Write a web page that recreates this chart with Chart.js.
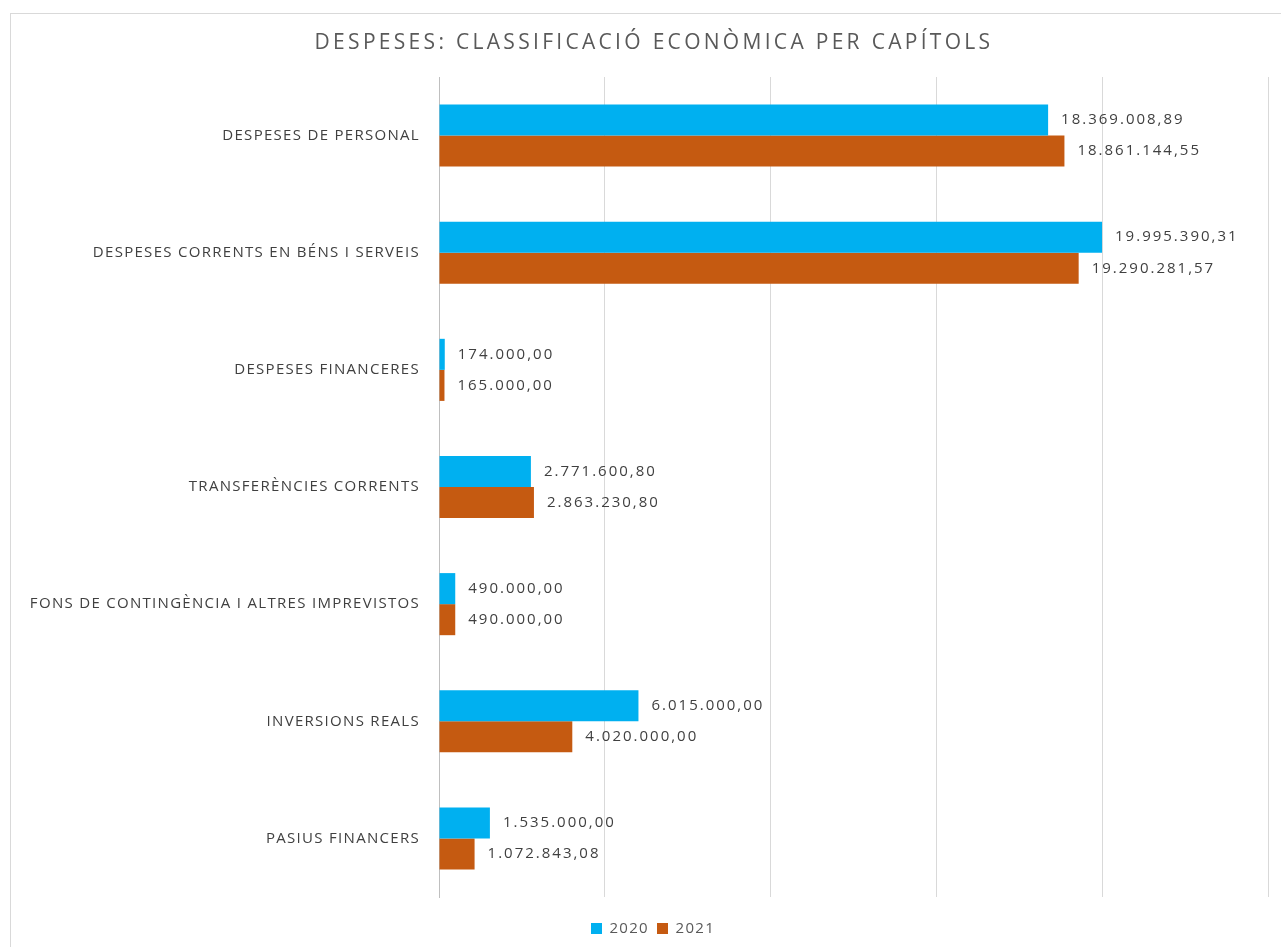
<!DOCTYPE html>
<html>
<head>
<meta charset="utf-8">
<script src="https://cdn.jsdelivr.net/npm/chart.js@4.4.1/dist/chart.umd.min.js"></script>
<style>
  html, body { margin: 0; padding: 0; background: #fff; overflow: hidden; }
  #frame { position: absolute; left: 10px; top: 13px; width: 1400px; height: 1100px; border: 1px solid #d9d9d9; box-sizing: border-box; }
  #wrap { position: absolute; left: 0; top: 0; width: 1281px; height: 947px; }
</style>
</head>
<body>
<div id="frame"></div>
<div id="wrap"><canvas id="c" width="1281" height="947"></canvas></div>
<script>
const categories = [
  "DESPESES DE PERSONAL",
  "DESPESES CORRENTS EN BÉNS I SERVEIS",
  "DESPESES FINANCERES",
  "TRANSFERÈNCIES CORRENTS",
  "FONS DE CONTINGÈNCIA I ALTRES IMPREVISTOS",
  "INVERSIONS REALS",
  "PASIUS FINANCERS"
];
const series2020 = [18369008.89, 19995390.31, 174000.00, 2771600.80, 490000.00, 6015000.00, 1535000.00];
const series2021 = [18861144.55, 19290281.57, 165000.00, 2863230.80, 490000.00, 4020000.00, 1072843.08];
const seriesNames = ["2020", "2021"];
const titleText = "DESPESES: CLASSIFICACIÓ ECONÒMICA PER CAPÍTOLS";

function fmt(v) {
  const parts = v.toFixed(2).split(".");
  const intPart = parts[0].replace(/\B(?=(\d{3})+(?!\d))/g, ".");
  return intPart + "," + parts[1];
}

const spacingPlugin = {
  id: "spacing",
  beforeInit(chart) { chart.ctx.letterSpacing = "1.3px"; },
  beforeUpdate(chart) { chart.ctx.letterSpacing = "1.3px"; },
  beforeDraw(chart) { chart.ctx.letterSpacing = "1.3px"; },
  afterLayout(chart) {
    if (chart.legend) { chart.legend.left += 9; chart.legend.right += 9; }
  }
};

const titlePlugin = {
  id: "customTitle",
  afterDraw(chart) {
    const ctx = chart.ctx;
    ctx.save();
    ctx.letterSpacing = "3.3px";
    ctx.font = "21px 'Open Sans', sans-serif";
    ctx.fillStyle = "#595959";
    ctx.textAlign = "center";
    ctx.textBaseline = "middle";
    ctx.fillText(titleText, 654, 43);
    ctx.restore();
  }
};

const labelPlugin = {
  id: "barLabels",
  afterDatasetsDraw(chart) {
    const ctx = chart.ctx;
    ctx.save();
    ctx.letterSpacing = "2px";
    ctx.font = "15px 'Open Sans', sans-serif";
    ctx.fillStyle = "#404040";
    ctx.textAlign = "left";
    ctx.textBaseline = "middle";
    chart.data.datasets.forEach((ds, di) => {
      const meta = chart.getDatasetMeta(di);
      meta.data.forEach((bar, i) => {
        ctx.fillText(fmt(ds.data[i]), bar.x + 13, bar.y);
      });
    });
    ctx.restore();
  }
};

new Chart(document.getElementById("c"), {
  type: "bar",
  data: {
    labels: categories,
    datasets: [
      { label: seriesNames[0], data: series2020, backgroundColor: "#00B0F0", categoryPercentage: 0.53, barPercentage: 1.0 },
      { label: seriesNames[1], data: series2021, backgroundColor: "#C55A11", categoryPercentage: 0.53, barPercentage: 1.0 }
    ]
  },
  options: {
    indexAxis: "y",
    responsive: false,
    animation: false,
    devicePixelRatio: 1,
    layout: { padding: { left: 20, right: 13, top: 77, bottom: 1 } },
    scales: {
      x: {
        min: 0, max: 25000000,
        afterFit(scale) { scale.height = 16; },
        ticks: { display: false, stepSize: 5000000 },
        grid: { color: "#d9d9d9", drawTicks: false, lineWidth: 1 },
        border: { display: false }
      },
      y: {
        afterFit(scale) { scale.width = 419; },
        ticks: { color: "#404040", font: { family: "'Open Sans', sans-serif", size: 15 }, padding: 19 },
        grid: { display: false, drawTicks: false },
        border: { display: true, color: "#bfbfbf" }
      }
    },
    plugins: {
      title: { display: false },
      legend: {
        position: "bottom",
        labels: { color: "#595959", font: { family: "'Open Sans', sans-serif", size: 15 }, boxWidth: 11, boxHeight: 11, padding: 8 }
      },
      tooltip: { enabled: false }
    }
  },
  plugins: [spacingPlugin, labelPlugin, titlePlugin]
});
</script>
</body>
</html>
